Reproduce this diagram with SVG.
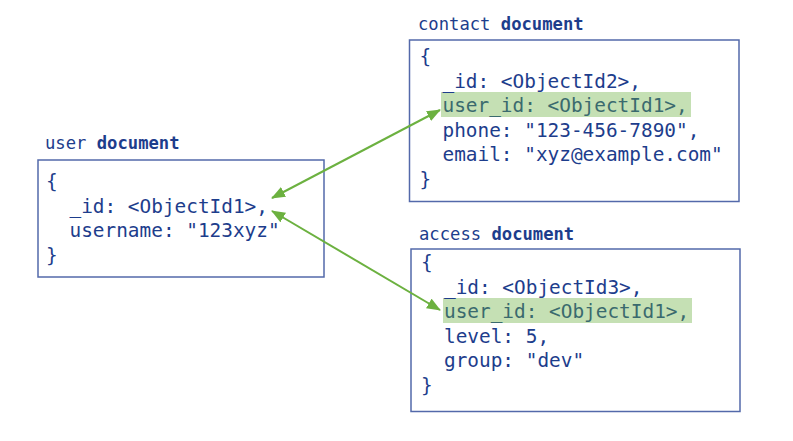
<svg xmlns="http://www.w3.org/2000/svg" width="793" height="441" viewBox="0 0 793 441">
<style>
  .box { fill: #ffffff; stroke: #5369aa; stroke-width: 1.5; }
  .code { font-family: "DejaVu Sans Mono", "Liberation Mono", monospace; font-size: 19.4px; fill: #1d3d8c; }
  .hl-text { fill: #3a6a6e; }
  .hl { fill: #c5e0b4; }
  .label { font-family: "DejaVu Sans Mono", "Liberation Mono", monospace; font-size: 17.2px; fill: #1d3d8c; }
  .bold { font-weight: bold; }
  .conn { stroke: #6cb140; stroke-width: 2; fill: none; marker-start: url(#arrow); marker-end: url(#arrow); }
</style>
<defs>
  <marker id="arrow" markerUnits="userSpaceOnUse" markerWidth="14" markerHeight="12" refX="13" refY="5.5" orient="auto-start-reverse" viewBox="0 0 14 11">
    <path d="M0,0 L14,5.5 L0,11 z" fill="#6cb140"/>
  </marker>
</defs>
<rect width="793" height="441" fill="#ffffff"/>

<g id="user">
  <text class="label" x="45" y="149">user <tspan class="bold">document</tspan></text>
  <rect class="box" x="38" y="160" width="286" height="117"/>
  <text class="code" x="46" y="188">{</text>
  <text class="code" x="69.5" y="212.5">_id: &lt;ObjectId1&gt;,</text>
  <text class="code" x="69.5" y="237">username: "123xyz"</text>
  <text class="code" x="46" y="261.5">}</text>
</g>

<g id="contact">
  <text class="label" x="418" y="29.5">contact <tspan class="bold">document</tspan></text>
  <rect class="box" x="409.5" y="40" width="329.5" height="161.5"/>
  <rect class="hl" x="441" y="92" width="250" height="25"/>
  <text class="code" x="419.5" y="63">{</text>
  <text class="code" x="442.5" y="87.5">_id: &lt;ObjectId2&gt;,</text>
  <text class="code hl-text" x="442.5" y="112">user_id: &lt;ObjectId1&gt;,</text>
  <text class="code" x="442.5" y="136.5">phone: "123-456-7890",</text>
  <text class="code" x="442.5" y="161">email: "xyz@example.com"</text>
  <text class="code" x="419.5" y="185.5">}</text>
</g>

<g id="access">
  <text class="label" x="419" y="239.5">access <tspan class="bold">document</tspan></text>
  <rect class="box" x="411" y="249" width="329" height="162.5"/>
  <rect class="hl" x="443" y="298" width="249" height="25"/>
  <text class="code" x="421" y="269">{</text>
  <text class="code" x="444" y="293.5">_id: &lt;ObjectId3&gt;,</text>
  <text class="code hl-text" x="444" y="318">user_id: &lt;ObjectId1&gt;,</text>
  <text class="code" x="444" y="342.5">level: 5,</text>
  <text class="code" x="444" y="367">group: "dev"</text>
  <text class="code" x="421" y="391.5">}</text>
</g>

<g id="connectors">
  <line class="conn" x1="440" y1="110" x2="272" y2="198"/>
  <line class="conn" x1="272" y1="211" x2="440" y2="310"/>
</g>
</svg>
